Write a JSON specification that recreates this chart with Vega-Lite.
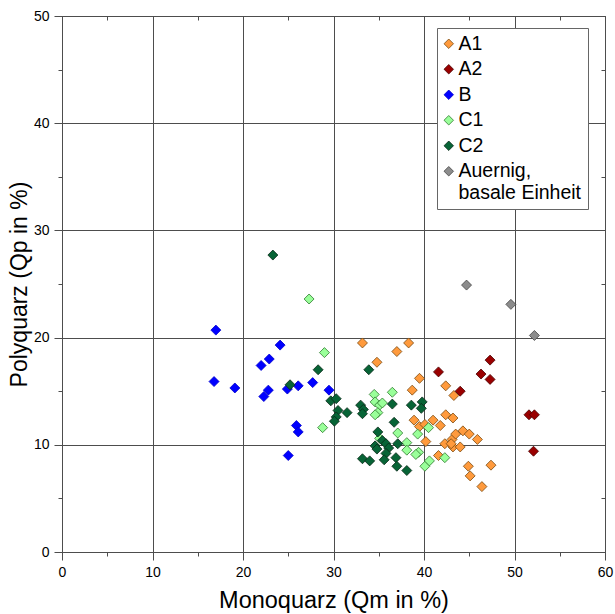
{
  "$schema": "https://vega.github.io/schema/vega-lite/v6.json",
  "width": 543,
  "height": 536,
  "autosize": {"type": "none"},
  "padding": {"left": 62, "top": 16, "right": 10, "bottom": 62},
  "config": {"font": "Liberation Sans", "view": {"stroke": null}},
  "data": {"values": [
    {"g":"A1","qm":33.2,"qp":19.5},{"g":"A1","qm":38.3,"qp":19.5},{"g":"A1","qm":34.8,"qp":17.7},{"g":"A1","qm":37.0,"qp":18.7},
    {"g":"A1","qm":39.5,"qp":16.2},{"g":"A1","qm":38.7,"qp":15.1},{"g":"A1","qm":42.4,"qp":15.5},{"g":"A1","qm":43.3,"qp":14.6},
    {"g":"A1","qm":38.9,"qp":12.3},{"g":"A1","qm":41.0,"qp":12.3},{"g":"A1","qm":39.5,"qp":11.7},{"g":"A1","qm":40.1,"qp":11.9},
    {"g":"A1","qm":41.8,"qp":11.8},{"g":"A1","qm":42.4,"qp":12.8},{"g":"A1","qm":43.2,"qp":12.5},{"g":"A1","qm":40.2,"qp":10.3},
    {"g":"A1","qm":42.3,"qp":10.1},{"g":"A1","qm":43.1,"qp":10.5},{"g":"A1","qm":43.2,"qp":9.8},{"g":"A1","qm":44.0,"qp":9.8},
    {"g":"A1","qm":43.5,"qp":11.0},{"g":"A1","qm":44.3,"qp":11.3},{"g":"A1","qm":45.0,"qp":11.0},{"g":"A1","qm":45.9,"qp":10.5},
    {"g":"A1","qm":41.6,"qp":9.0},{"g":"A1","qm":44.9,"qp":8.0},{"g":"A1","qm":45.1,"qp":7.1},{"g":"A1","qm":46.4,"qp":6.1},
    {"g":"A1","qm":47.4,"qp":8.1},{"g":"A1","qm":43.0,"qp":10.1},
    {"g":"A2","qm":41.6,"qp":16.8},{"g":"A2","qm":44.0,"qp":15.0},{"g":"A2","qm":46.3,"qp":16.6},{"g":"A2","qm":47.3,"qp":17.9},
    {"g":"A2","qm":47.3,"qp":16.1},{"g":"A2","qm":51.6,"qp":12.8},{"g":"A2","qm":52.2,"qp":12.8},{"g":"A2","qm":52.1,"qp":9.4},
    {"g":"B","qm":17.0,"qp":20.7},{"g":"B","qm":16.8,"qp":15.9},{"g":"B","qm":19.1,"qp":15.3},{"g":"B","qm":22.0,"qp":17.4},
    {"g":"B","qm":22.9,"qp":18.0},{"g":"B","qm":24.1,"qp":19.3},{"g":"B","qm":22.3,"qp":14.5},{"g":"B","qm":22.8,"qp":15.1},
    {"g":"B","qm":24.9,"qp":15.2},{"g":"B","qm":26.1,"qp":15.5},{"g":"B","qm":27.7,"qp":15.8},{"g":"B","qm":29.5,"qp":15.1},
    {"g":"B","qm":25.9,"qp":11.8},{"g":"B","qm":26.1,"qp":11.2},{"g":"B","qm":25.0,"qp":9.0},
    {"g":"C1","qm":27.3,"qp":23.6},{"g":"C1","qm":29.0,"qp":18.6},{"g":"C1","qm":28.8,"qp":11.6},{"g":"C1","qm":34.5,"qp":14.7},
    {"g":"C1","qm":36.5,"qp":14.9},{"g":"C1","qm":34.6,"qp":14.0},{"g":"C1","qm":35.1,"qp":13.7},{"g":"C1","qm":35.4,"qp":13.9},
    {"g":"C1","qm":34.9,"qp":13.0},{"g":"C1","qm":34.6,"qp":12.8},{"g":"C1","qm":37.1,"qp":11.1},{"g":"C1","qm":35.1,"qp":10.6},
    {"g":"C1","qm":38.1,"qp":10.2},{"g":"C1","qm":38.1,"qp":9.5},{"g":"C1","qm":39.3,"qp":11.0},{"g":"C1","qm":39.4,"qp":9.3},
    {"g":"C1","qm":39.1,"qp":9.1},{"g":"C1","qm":40.5,"qp":11.6},{"g":"C1","qm":40.1,"qp":8.0},{"g":"C1","qm":40.6,"qp":8.5},
    {"g":"C1","qm":42.3,"qp":8.8},
    {"g":"C2","qm":23.3,"qp":27.7},{"g":"C2","qm":25.2,"qp":15.6},{"g":"C2","qm":28.3,"qp":17.0},{"g":"C2","qm":29.7,"qp":14.1},
    {"g":"C2","qm":30.3,"qp":14.3},{"g":"C2","qm":30.5,"qp":13.2},{"g":"C2","qm":31.5,"qp":13.0},{"g":"C2","qm":30.3,"qp":12.6},
    {"g":"C2","qm":30.1,"qp":12.2},{"g":"C2","qm":33.0,"qp":13.7},{"g":"C2","qm":33.3,"qp":13.3},{"g":"C2","qm":33.2,"qp":12.9},
    {"g":"C2","qm":33.9,"qp":17.0},{"g":"C2","qm":36.5,"qp":13.8},{"g":"C2","qm":38.6,"qp":13.7},{"g":"C2","qm":39.8,"qp":14.0},
    {"g":"C2","qm":39.7,"qp":13.4},{"g":"C2","qm":36.7,"qp":12.1},{"g":"C2","qm":34.9,"qp":11.2},{"g":"C2","qm":34.6,"qp":9.9},
    {"g":"C2","qm":35.4,"qp":10.4},{"g":"C2","qm":35.8,"qp":10.1},{"g":"C2","qm":36.1,"qp":9.7},{"g":"C2","qm":37.1,"qp":10.1},
    {"g":"C2","qm":35.8,"qp":9.2},{"g":"C2","qm":35.6,"qp":8.6},{"g":"C2","qm":36.9,"qp":8.8},{"g":"C2","qm":37.0,"qp":8.0},
    {"g":"C2","qm":38.1,"qp":7.6},{"g":"C2","qm":33.2,"qp":8.7},{"g":"C2","qm":34.0,"qp":8.5},{"g":"C2","qm":34.8,"qp":9.6},
    {"g":"Auernig, basale Einheit","qm":44.7,"qp":24.9},{"g":"Auernig, basale Einheit","qm":49.6,"qp":23.1},{"g":"Auernig, basale Einheit","qm":52.2,"qp":20.2}
  ]},
  "layer": [
    {
      "mark": {"type": "point", "shape": "diamond", "filled": true, "size": 100, "strokeWidth": 0.8, "opacity": 1},
      "encoding": {
        "x": {"field": "qm", "type": "quantitative",
          "scale": {"domain": [0, 60], "nice": false, "zero": false},
          "axis": {"title": "Monoquarz (Qm in %)", "values": [0,5,10,15,20,25,30,35,40,45,50,55,60],
            "labelExpr": "datum.value % 10 === 0 ? datum.label : ''",
            "tickSize": {"condition": {"test": "datum.value % 10 === 0", "value": 8}, "value": 4},
            "gridOpacity": {"condition": {"test": "datum.value % 10 === 0", "value": 1}, "value": 0},
            "grid": true, "gridColor": "#4d4d4d", "gridWidth": 1,
            "domainColor": "#4d4d4d", "tickColor": "#4d4d4d",
            "labelFontSize": 14, "labelColor": "#000", "labelPadding": 5, "labelFlush": false,
            "titleFontSize": 23.5, "titleFontWeight": "normal", "titleColor": "#000", "titlePadding": 9}},
        "y": {"field": "qp", "type": "quantitative",
          "scale": {"domain": [0, 50], "nice": false, "zero": false},
          "axis": {"title": "Polyquarz (Qp in %)", "values": [0,5,10,15,20,25,30,35,40,45,50],
            "labelExpr": "datum.value % 10 === 0 ? datum.label : ''",
            "tickSize": {"condition": {"test": "datum.value % 10 === 0", "value": 8}, "value": 4},
            "gridOpacity": {"condition": {"test": "datum.value % 10 === 0", "value": 1}, "value": 0},
            "grid": true, "gridColor": "#4d4d4d", "gridWidth": 1,
            "domainColor": "#4d4d4d", "tickColor": "#4d4d4d",
            "labelFontSize": 14, "labelColor": "#000", "labelPadding": 5, "labelFlush": false,
            "titleFontSize": 23, "titleFontWeight": "normal", "titleColor": "#000", "titlePadding": 2}},
        "fill": {"field": "g", "type": "nominal",
          "scale": {"domain": ["A1","A2","B","C1","C2","Auernig, basale Einheit"],
                    "range": ["#ff9a3c","#9a0000","#0000ff","#99ff99","#076436","#8c8c8c"]},
          "legend": {"orient": "none", "legendX": 375, "legendY": 12, "title": null,
            "labelFontSize": 19.5, "labelColor": "#000", "symbolSize": 90, "symbolType": "diamond",
            "symbolStrokeWidth": 0.8, "padding": 6, "rowPadding": 4.5, "labelOffset": 0, "symbolOffset": -4,
            "strokeColor": "#666", "fillColor": "white", "labelLimit": 300,
            "labelExpr": "datum.label == 'Auernig, basale Einheit' ? ['Auernig,', 'basale Einheit'] : datum.label"}},
        "stroke": {"field": "g", "type": "nominal",
          "scale": {"domain": ["A1","A2","B","C1","C2","Auernig, basale Einheit"],
                    "range": ["#7a4a10","#4a0000","#0000cc","#2e7a2e","#0a2a18","#444444"]},
          "legend": {"orient": "none", "legendX": 375, "legendY": 12, "title": null,
            "labelFontSize": 19.5, "labelColor": "#000", "symbolSize": 90, "symbolType": "diamond",
            "symbolStrokeWidth": 0.8, "padding": 6, "rowPadding": 4.5, "labelOffset": 0, "symbolOffset": -4,
            "strokeColor": "#666", "fillColor": "white", "labelLimit": 300,
            "labelExpr": "datum.label == 'Auernig, basale Einheit' ? ['Auernig,', 'basale Einheit'] : datum.label"}}
      }
    },
    {
      "mark": {"type": "point", "opacity": 0},
      "encoding": {
        "x": {"field": "qm", "type": "quantitative",
          "axis": {"orient": "top", "title": null, "labels": false, "grid": false,
            "values": [0,5,10,15,20,25,30,35,40,45,50,55,60], "tickSize": -4,
            "domainColor": "#4d4d4d", "tickColor": "#4d4d4d"}},
        "y": {"field": "qp", "type": "quantitative",
          "axis": {"orient": "right", "title": null, "labels": false, "grid": false,
            "values": [0,5,10,15,20,25,30,35,40,45,50], "tickSize": -4,
            "domainColor": "#4d4d4d", "tickColor": "#4d4d4d"}}
      }
    }
  ],
  "resolve": {"axis": {"x": "independent", "y": "independent"}}
}
